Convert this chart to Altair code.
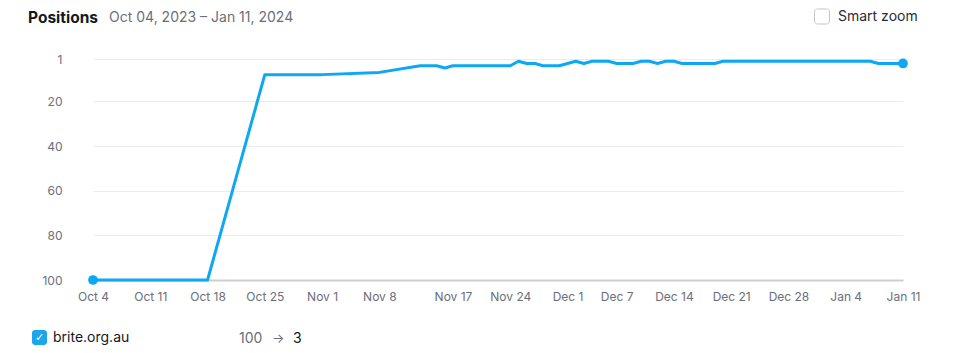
import altair as alt
import pandas as pd

# ---- data ----
dates = [
    "2023-10-04", "2023-10-11", "2023-10-18", "2023-10-25", "2023-11-01",
    "2023-11-08", "2023-11-13", "2023-11-14", "2023-11-15", "2023-11-16",
    "2023-11-17", "2023-11-18", "2023-11-19", "2023-11-20", "2023-11-21",
    "2023-11-22", "2023-11-23", "2023-11-24", "2023-11-25", "2023-11-26",
    "2023-11-27", "2023-11-28", "2023-11-29", "2023-11-30", "2023-12-01",
    "2023-12-02", "2023-12-03", "2023-12-04", "2023-12-05", "2023-12-06",
    "2023-12-07", "2023-12-08", "2023-12-09", "2023-12-10", "2023-12-11",
    "2023-12-12", "2023-12-13", "2023-12-14", "2023-12-15", "2023-12-16",
    "2023-12-17", "2023-12-18", "2023-12-19", "2023-12-20", "2023-12-28",
    "2024-01-04", "2024-01-07", "2024-01-08", "2024-01-09", "2024-01-10",
    "2024-01-11",
]
positions = [
    100, 100, 100, 8, 8,
    7, 4, 4, 4, 5,
    4, 4, 4, 4, 4,
    4, 4, 4, 2, 3,
    3, 4, 4, 4, 3,
    2, 3, 2, 2, 2,
    3, 3, 3, 2, 2,
    3, 2, 2, 3, 3,
    3, 3, 3, 2, 2,
    2, 2, 3, 3, 3,
    3,
]
y_ticks = [1, 20, 40, 60, 80, 100]
x_tick_dates = [
    (2023, 10, 4), (2023, 10, 11), (2023, 10, 18), (2023, 10, 25),
    (2023, 11, 1), (2023, 11, 8), (2023, 11, 17), (2023, 11, 24),
    (2023, 12, 1), (2023, 12, 7), (2023, 12, 14), (2023, 12, 21),
    (2023, 12, 28), (2024, 1, 4), (2024, 1, 11),
]
domain_name = "brite.org.au"
start_pos = "100"
end_pos = "3"
title_text = "Positions"
range_text = "Oct 04, 2023 \u2013 Jan 11, 2024"
zoom_text = "Smart zoom"

# ---- build ----
df = pd.DataFrame({"date": pd.to_datetime(dates), "pos": positions})
ends = df.iloc[[0, -1]]

BLUE = "#0ea8f2"
GRAY = "#6c6e79"
DARK = "#15171e"
FONT = "Inter"

x_enc = alt.X(
    "date:T",
    scale=alt.Scale(
        domain=[alt.DateTime(year=2023, month=10, date=4),
                alt.DateTime(year=2024, month=1, date=11)],
        nice=False,
    ),
    axis=alt.Axis(
        values=[alt.DateTime(year=y, month=m, date=d) for (y, m, d) in x_tick_dates],
        format="%b %-d",
        title=None,
        grid=False,
        ticks=False,
        labelPadding=11,
        labelFlush=False,
        labelOverlap=False,
        labelFont=FONT,
        labelFontSize=12,
        labelColor=GRAY,
        domainColor="#cbced2",
        domainWidth=2,
    ),
)
y_enc = alt.Y(
    "pos:Q",
    scale=alt.Scale(domain=[1, 100], reverse=True, nice=False, zero=False),
    axis=alt.Axis(
        values=y_ticks,
        title=None,
        domain=False,
        ticks=False,
        labelPadding=31,
        labelFont=FONT,
        labelFontSize=12,
        labelColor=GRAY,
        gridColor="#ebecee",
        gridWidth=1,
    ),
)

line = alt.Chart(df).mark_line(color=BLUE, strokeWidth=3, strokeJoin="round").encode(x=x_enc, y=y_enc)
dots = alt.Chart(ends).mark_circle(color=BLUE, size=95, opacity=1).encode(x="date:T", y="pos:Q")

one = alt.Data(values=[{}])


def label(text, x, y, size=14, color=DARK, weight="normal", align="left"):
    return alt.Chart(one).mark_text(
        font=FONT, fontSize=size, color=color, fontWeight=weight,
        align=align, baseline="middle",
    ).encode(x=alt.value(x), y=alt.value(y), text=alt.value(text))


title = label(title_text, -65, -41, size=15.5, weight="bold")
rng = label(range_text, 16, -41, size=14, color=GRAY)
zoom_box = alt.Chart(one).mark_rect(
    fill="white", stroke="#c3c6cb", strokeWidth=1, cornerRadius=3
).encode(x=alt.value(721.5), x2=alt.value(736.5), y=alt.value(-50), y2=alt.value(-35))
zoom_lbl = label(zoom_text, 745, -42, size=14, color="#2a2c33")

legend_box = alt.Chart(one).mark_rect(
    fill="#1aa5ec", cornerRadius=3
).encode(x=alt.value(-61), x2=alt.value(-46), y=alt.value(271), y2=alt.value(286))
check = alt.Chart(one).mark_text(
    font="DejaVu Sans", fontSize=11, color="white", fontWeight="bold",
    align="center", baseline="middle",
).encode(x=alt.value(-53.5), y=alt.value(278.5), text=alt.value("\u2713"))
legend_name = label(domain_name, -40, 279, size=14, color=DARK)
legend_from = label(start_pos, 146, 280, size=14, color=GRAY)
legend_arrow = label("\u2192", 179, 280, size=13, color=GRAY)
legend_to = label(end_pos, 200, 280, size=14, color=DARK)

chart = alt.layer(
    line, dots, title, rng, zoom_box, zoom_lbl,
    legend_box, check, legend_name, legend_from, legend_arrow, legend_to,
).properties(
    width=810,
    height=221,
    autosize=alt.AutoSizeParams(type="none"),
    padding={"left": 93, "top": 59, "right": 58, "bottom": 73},
    background="white",
).configure_view(stroke=None)

chart.save("out.html", embed_options={"renderer": "svg", "actions": False})
